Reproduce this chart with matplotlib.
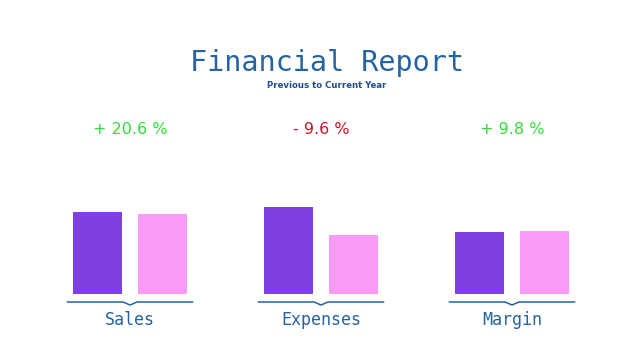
import matplotlib.pyplot as plt
import numpy as np

categories = ["Sales", "Expenses", "Margin"]
previous = [82, 87, 62]
current = [80, 59, 63]
changes = ["+ 20.6 %", "- 9.6 %", "+ 9.8 %"]
change_up = [True, False, True]

PURPLE = "#7f3fe3"
PINK = "#f99af7"
BLUE = "#2563a3"
GREEN = "#33dd3a"
RED = "#cc1428"

fig = plt.figure(figsize=(6.41, 3.6), dpi=100)
fig.patch.set_facecolor("white")

# bars area: bottom at 294px from top, 100 px tall
ax = fig.add_axes([0, 66 / 360, 1, 100 / 360])
ax.set_xlim(-130 / 191, (641 - 130) / 191)
ax.set_ylim(0, 100)
ax.axis("off")

x = np.arange(len(categories))
w = 49 / 191
off = 32.5 / 191
ax.bar(x - off, previous, width=w, color=PURPLE)
ax.bar(x + off, current, width=w, color=PINK)

# brace under each group
half = 62.5 / 191
notch = 7 / 191
for xi in x:
    bx = [xi - half, xi - notch, xi, xi + notch, xi + half]
    by = [-8, -8, -11, -8, -8]
    ax.plot(bx, by, color=BLUE, lw=1.1, clip_on=False)

for xi, name in zip(x, categories):
    ax.text(xi, -26, name, ha="center", va="center", fontsize=12,
            family="DejaVu Sans Mono", color=BLUE, clip_on=False)

for xi, lab, up in zip(x, changes, change_up):
    ax.text(xi, 164, lab, ha="center", va="center", fontsize=11.5,
            color=GREEN if up else RED, clip_on=False)

fig.text(327 / 641, 1 - 63 / 360, "Financial Report", ha="center", va="center",
         fontsize=20.5, family="DejaVu Sans Mono", color=BLUE)
fig.text(327 / 641, 1 - 85 / 360, "Previous to Current Year", ha="center",
         va="center", fontsize=6.8, fontweight="bold", fontstretch="condensed",
         family=["DejaVu Sans"], color="#1d4f8f")

fig.savefig("out.png", dpi=100, facecolor="white")
